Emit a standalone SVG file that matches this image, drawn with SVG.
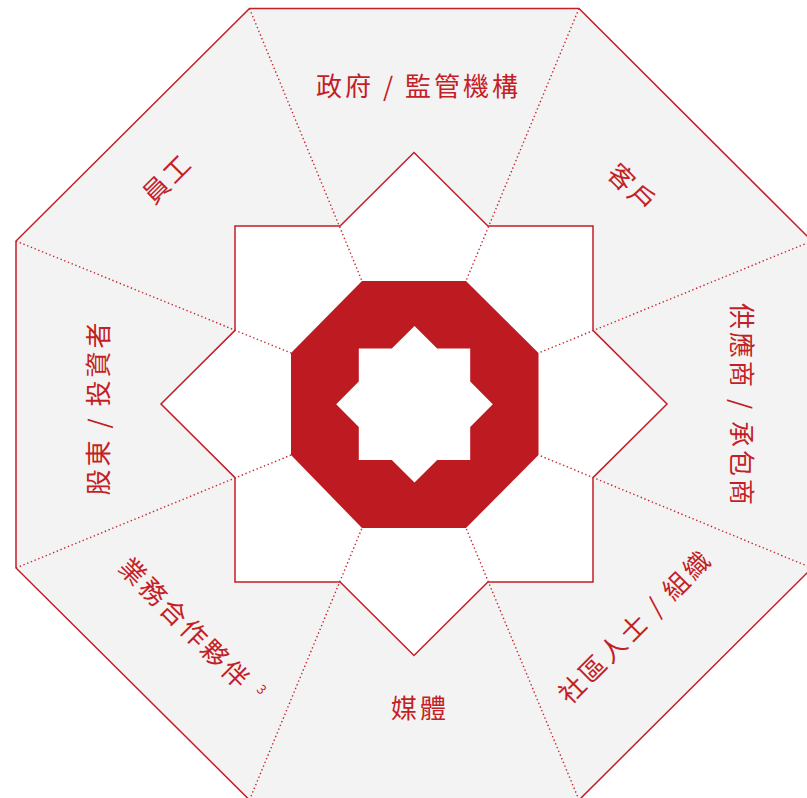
<svg xmlns="http://www.w3.org/2000/svg" width="807" height="798" viewBox="0 0 807 798">
  <style>
    .outer { fill: #f3f3f3; stroke: #c41e26; stroke-width: 1.5; }
    .star { fill: #ffffff; stroke: #c41e26; stroke-width: 1.5; stroke-linejoin: miter; }
    .core { fill: #be1a21; }
    .hole { fill: #ffffff; }
    .div { stroke: #c8262e; stroke-width: 1.4; stroke-dasharray: 1.4 2.6; fill: none; }
    .lbl { font-family: "Noto Sans CJK TC", "Noto Sans CJK SC", "Noto Sans", sans-serif; font-size: 26px; fill: #c41e26; text-anchor: middle; dominant-baseline: central; letter-spacing: 3px; }
  </style>
  <rect width="807" height="798" fill="#ffffff"/>
  <g id="frame">
    <polygon class="outer" points="249.5,8.5 579,8.5 812,241 812,568 579,800 249.5,800 16,568 16,241"/>
    <polygon class="star" points="414,152.5 487.9,226 593,226 593,330.4 667,404 593,477.6 593,582 487.9,582 414,655.5 340.1,582 235,582 235,477.6 161,404 235,330.4 235,226 340.1,226"/>
  </g>
  <g id="connectors">
    <line class="div" x1="249.5" y1="8.5" x2="362" y2="281"/>
    <line class="div" x1="579" y1="8.5" x2="466" y2="281"/>
    <line class="div" x1="812" y1="241" x2="538.5" y2="353"/>
    <line class="div" x1="812" y1="568" x2="538.5" y2="455"/>
    <line class="div" x1="579" y1="800" x2="466" y2="528"/>
    <line class="div" x1="249.5" y1="800" x2="362" y2="528"/>
    <line class="div" x1="16" y1="568" x2="291" y2="455"/>
    <line class="div" x1="16" y1="241" x2="291" y2="353"/>
  </g>
  <g id="center">
    <polygon class="core" points="362,281 466,281 538.5,353 538.5,455 466,528 362,528 291,455 291,353"/>
    <polygon class="hole" points="414.5,326 437.2,348.6 470.2,348.6 470.2,381.6 492.8,404.3 470.2,427 470.2,460 437.2,460 414.5,482.6 391.8,460 358.8,460 358.8,427 336.2,404.3 358.8,381.6 358.8,348.6 391.8,348.6"/>
  </g>
  <g id="node-government">
    <text class="lbl" x="418.5" y="84">政府 / 監管機構</text>
  </g>
  <g id="node-customers">
    <text class="lbl" transform="translate(633,186) rotate(45)" x="1.5" y="0">客戶</text>
  </g>
  <g id="node-suppliers">
    <text class="lbl" transform="translate(743,404) rotate(90)" x="1.5" y="0">供應商 / 承包商</text>
  </g>
  <g id="node-community">
    <text class="lbl" transform="translate(633,626) rotate(-45)" x="1.5" y="0">社區人士 / 組織</text>
  </g>
  <g id="node-media">
    <text class="lbl" x="420" y="706">媒體</text>
  </g>
  <g id="node-partners">
    <text class="lbl" transform="translate(185,621) rotate(45)" x="-85" y="0" style="text-anchor:start">業務合作夥伴<tspan font-size="13" dx="10" dy="-7" letter-spacing="0">3</tspan></text>
  </g>
  <g id="node-shareholders">
    <text class="lbl" transform="translate(96,409) rotate(-90)" x="1.5" y="0">股東 / 投資者</text>
  </g>
  <g id="node-employees">
    <text class="lbl" transform="translate(165,178) rotate(-45)" x="1.5" y="0">員工</text>
  </g>
</svg>
